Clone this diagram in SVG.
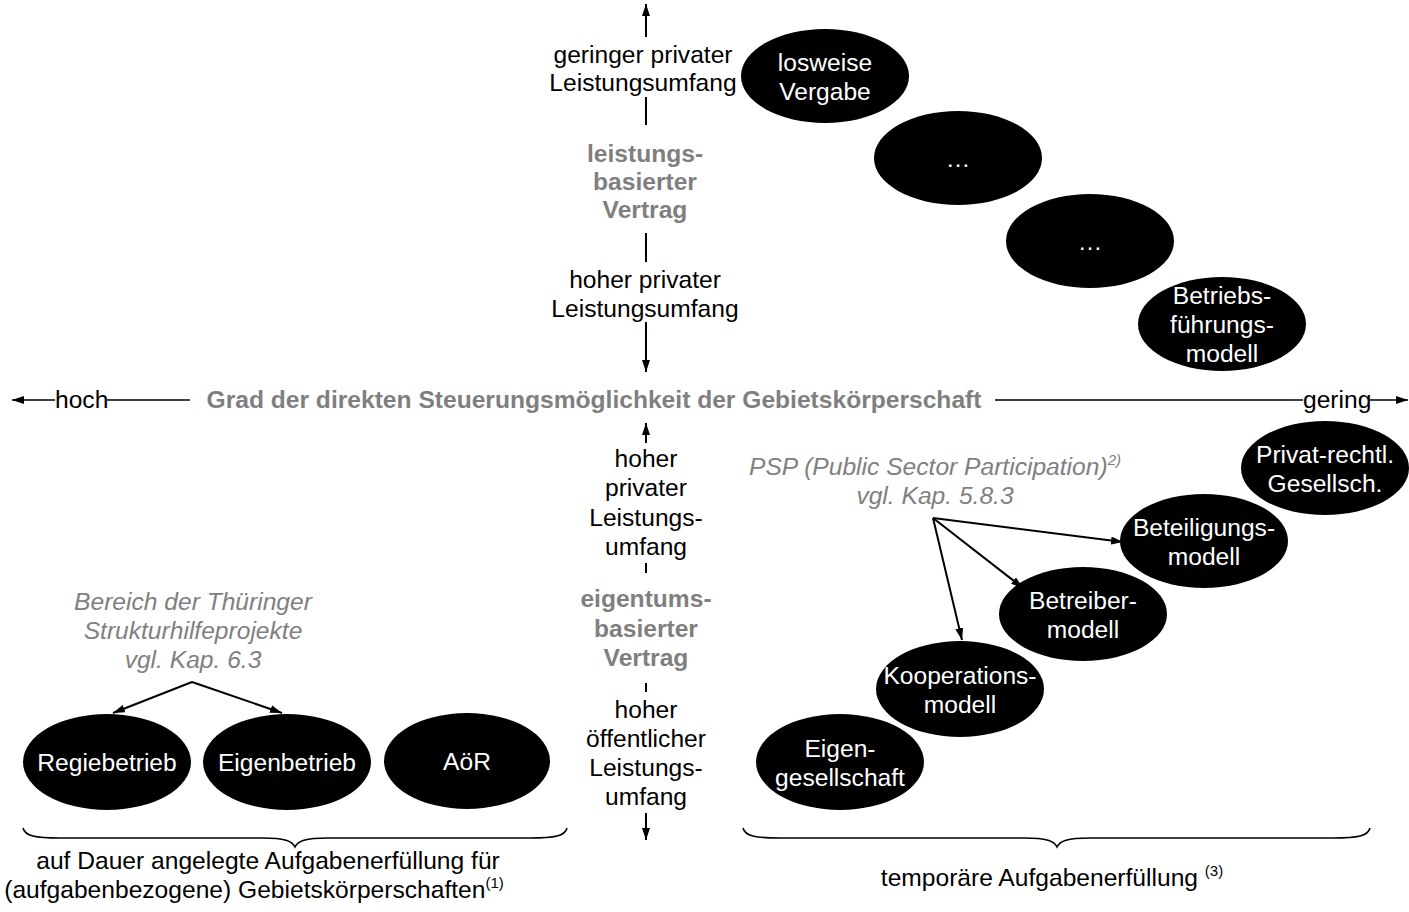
<svg xmlns="http://www.w3.org/2000/svg" width="1409" height="912" viewBox="0 0 1409 912">
<defs>
<style>
text{font-family:"Liberation Sans",Arial,sans-serif;font-size:24.6px;}
.b{fill:#000;}
.w{fill:#fff;text-anchor:middle;}
.c{text-anchor:middle;fill:#000;}
.g{text-anchor:middle;fill:#7f7f7f;font-weight:bold;}
.i{text-anchor:middle;fill:#808080;font-style:italic;}
.n{fill:#000;}
.sup{font-size:15px;}
.ln{stroke:#000;stroke-width:2;fill:none;}
.ax{stroke:#000;stroke-width:1.6;fill:none;}
.ar{marker-end:url(#ah);}
</style>
<marker id="ah" viewBox="0 0 12 8" refX="12" refY="4" markerWidth="12" markerHeight="8" markerUnits="userSpaceOnUse" orient="auto">
<path d="M0,0 L12,4 L0,8 z" fill="#000"/>
</marker>
</defs>
<rect width="1409" height="912" fill="#fff"/>

<g id="connectors">
<line class="ln ar" x1="646" y1="37" x2="646" y2="4"/>
<line class="ln" x1="646" y1="97" x2="646" y2="125"/>
<line class="ln" x1="646" y1="233" x2="646" y2="262"/>
<line class="ln ar" x1="646" y1="322" x2="646" y2="372"/>
<line class="ax ar" x1="55" y1="400" x2="12" y2="400"/>
<line class="ax" x1="107" y1="400" x2="190" y2="400"/>
<line class="ax" x1="995" y1="400" x2="1303" y2="400"/>
<line class="ax ar" x1="1370" y1="400" x2="1408" y2="400"/>
<line class="ln ar" x1="646" y1="443" x2="646" y2="423"/>
<line class="ln" x1="646" y1="563" x2="646" y2="573"/>
<line class="ln" x1="646" y1="683" x2="646" y2="692"/>
<line class="ln ar" x1="646" y1="813" x2="646" y2="840"/>
<line class="ln ar" x1="933" y1="518" x2="1123" y2="542"/>
<line class="ln ar" x1="933" y1="518" x2="1023" y2="588"/>
<line class="ln ar" x1="933" y1="518" x2="962" y2="640"/>
<line class="ln ar" x1="192" y1="682" x2="113" y2="713"/>
<line class="ln ar" x1="192" y1="682" x2="282" y2="713"/>
<path class="ax" d="M23,828 C25,836 35,838 60,838 L262,838 C285,838 292,841 295,847 C298,841 305,838 328,838 L530,838 C555,838 565,836 567,828"/>
<path class="ax" d="M743,828 C745,836 755,838 780,838 L1024,838 C1047,838 1054,841 1057,847 C1060,841 1067,838 1090,838 L1333,838 C1358,838 1368,836 1370,828"/>
</g>

<g id="axis-labels">
<text class="c" x="643" y="63">geringer privater</text>
<text class="c" x="643" y="91">Leistungsumfang</text>
<text class="g" x="645" y="162">leistungs-</text>
<text class="g" x="645" y="190">basierter</text>
<text class="g" x="645" y="218">Vertrag</text>
<text class="c" x="645" y="288">hoher privater</text>
<text class="c" x="645" y="317">Leistungsumfang</text>
<text class="n" x="55" y="408">hoch</text>
<text class="g" x="594" y="408">Grad der direkten Steuerungsmöglichkeit der Gebietskörperschaft</text>
<text class="n" x="1303" y="408">gering</text>
<text class="c" x="646" y="467">hoher</text>
<text class="c" x="646" y="496">privater</text>
<text class="c" x="646" y="526">Leistungs-</text>
<text class="c" x="646" y="555">umfang</text>
<text class="g" x="646" y="607">eigentums-</text>
<text class="g" x="646" y="637">basierter</text>
<text class="g" x="646" y="666">Vertrag</text>
<text class="c" x="646" y="718">hoher</text>
<text class="c" x="646" y="747">öffentlicher</text>
<text class="c" x="646" y="776">Leistungs-</text>
<text class="c" x="646" y="805">umfang</text>
</g>

<g id="psp-label">
<text class="i" x="935" y="475">PSP (Public Sector Participation)<tspan class="sup" dy="-10">2)</tspan></text>
<text class="i" x="935" y="504">vgl. Kap. 5.8.3</text>
</g>
<g id="thueringen-label">
<text class="i" x="193" y="610">Bereich der Thüringer</text>
<text class="i" x="193" y="639">Strukturhilfeprojekte</text>
<text class="i" x="193" y="668">vgl. Kap. 6.3</text>
</g>

<g id="losweise">
<ellipse class="b" cx="825" cy="76" rx="84" ry="47"/>
<text class="w" x="825" y="71">losweise</text>
<text class="w" x="825" y="100">Vergabe</text>
</g>
<g id="dots1">
<ellipse class="b" cx="958" cy="158" rx="84" ry="47"/>
<text class="w" x="958" y="167">…</text>
</g>
<g id="dots2">
<ellipse class="b" cx="1090" cy="241" rx="84" ry="47"/>
<text class="w" x="1090" y="250">…</text>
</g>
<g id="betriebsfuehrung">
<ellipse class="b" cx="1222" cy="324" rx="84" ry="47"/>
<text class="w" x="1222" y="304">Betriebs-</text>
<text class="w" x="1222" y="333">führungs-</text>
<text class="w" x="1222" y="362">modell</text>
</g>

<g id="regiebetrieb">
<ellipse class="b" cx="107" cy="762" rx="84" ry="48"/>
<text class="w" x="107" y="771">Regiebetrieb</text>
</g>
<g id="eigenbetrieb">
<ellipse class="b" cx="287" cy="762" rx="84" ry="48"/>
<text class="w" x="287" y="771">Eigenbetrieb</text>
</g>
<g id="aoer">
<ellipse class="b" cx="467" cy="761" rx="83" ry="48"/>
<text class="w" x="467" y="770">AöR</text>
</g>

<g id="eigengesellschaft">
<ellipse class="b" cx="840" cy="762" rx="84" ry="48"/>
<text class="w" x="840" y="757">Eigen-</text>
<text class="w" x="840" y="786">gesellschaft</text>
</g>
<g id="kooperationsmodell">
<ellipse class="b" cx="960" cy="689" rx="84" ry="48"/>
<text class="w" x="960" y="684">Kooperations-</text>
<text class="w" x="960" y="713">modell</text>
</g>
<g id="betreibermodell">
<ellipse class="b" cx="1083" cy="614" rx="84" ry="47"/>
<text class="w" x="1083" y="609">Betreiber-</text>
<text class="w" x="1083" y="638">modell</text>
</g>
<g id="beteiligungsmodell">
<ellipse class="b" cx="1204" cy="541" rx="84" ry="47"/>
<text class="w" x="1204" y="536">Beteiligungs-</text>
<text class="w" x="1204" y="565">modell</text>
</g>
<g id="privatrechtl">
<ellipse class="b" cx="1325" cy="468" rx="84" ry="47"/>
<text class="w" x="1325" y="463">Privat-rechtl.</text>
<text class="w" x="1325" y="492">Gesellsch.</text>
</g>

<g id="bottom-labels">
<text class="c" x="268" y="869">auf Dauer angelegte Aufgabenerfüllung für</text>
<text class="c" x="254" y="898">(aufgabenbezogene) Gebietskörperschaften<tspan class="sup" dy="-10">(1)</tspan></text>
<text class="c" x="1052" y="886">temporäre Aufgabenerfüllung <tspan class="sup" dy="-10">(3)</tspan></text>
</g>
</svg>
